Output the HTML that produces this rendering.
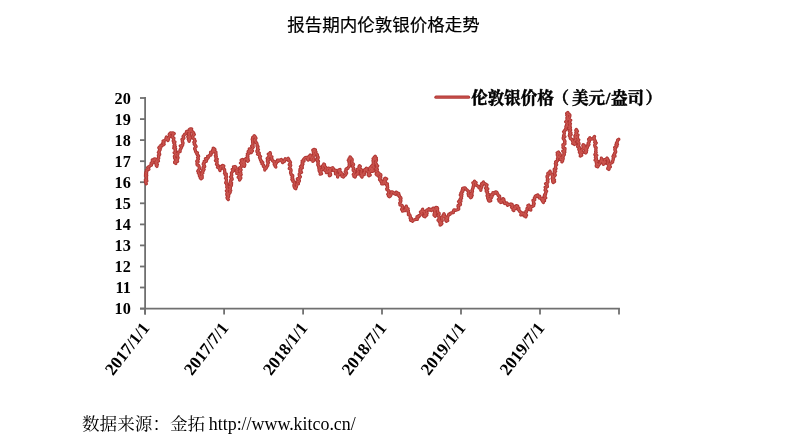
<!DOCTYPE html>
<html lang="zh"><head><meta charset="utf-8"><title>报告期内伦敦银价格走势</title>
<style>
html,body{margin:0;padding:0;background:#fff;}
body{width:800px;height:447px;overflow:hidden;position:relative;}
svg{position:absolute;left:0;top:0;display:block;}
.title{font-family:"Liberation Sans","Noto Sans CJK SC",sans-serif;font-size:17.5px;fill:#000;stroke:#000;stroke-width:0.2;}
.ax text{font-family:"Liberation Serif","Noto Serif CJK SC",serif;font-weight:bold;font-size:17.2px;fill:#000;}
.leg{font-family:"Liberation Serif","Noto Serif CJK SC",serif;font-weight:bold;font-size:16.5px;fill:#000;stroke:#000;stroke-width:0.5;}
.src{font-family:"Liberation Serif","Noto Serif CJK SC",serif;font-size:17.6px;fill:#000;}
.axis line{stroke:#707070;stroke-width:1.8;}
.d1{fill:none;stroke:#b03734;stroke-width:3.3;stroke-linejoin:round;stroke-linecap:round;}
.d2{fill:none;stroke:#ca534d;stroke-width:1.3;stroke-linejoin:round;stroke-linecap:round;}
</style></head>
<body>
<svg width="800" height="447" viewBox="0 0 800 447">
<rect width="800" height="447" fill="#fff"/>
<text class="title" x="287.2" y="30.5">报告期内伦敦银价格走势</text>
<g class="axis">
<line x1="145.1" y1="97.1" x2="145.1" y2="314.5"/>
<line x1="140" y1="308.6" x2="619.9" y2="308.6"/>
<line x1="140" y1="98.0" x2="145.1" y2="98.0"/>
<line x1="140" y1="119.1" x2="145.1" y2="119.1"/>
<line x1="140" y1="140.1" x2="145.1" y2="140.1"/>
<line x1="140" y1="161.2" x2="145.1" y2="161.2"/>
<line x1="140" y1="182.2" x2="145.1" y2="182.2"/>
<line x1="140" y1="203.3" x2="145.1" y2="203.3"/>
<line x1="140" y1="224.4" x2="145.1" y2="224.4"/>
<line x1="140" y1="245.4" x2="145.1" y2="245.4"/>
<line x1="140" y1="266.5" x2="145.1" y2="266.5"/>
<line x1="140" y1="287.5" x2="145.1" y2="287.5"/>
<line x1="140" y1="308.6" x2="145.1" y2="308.6"/>
<line x1="145.1" y1="308.6" x2="145.1" y2="314.5"/>
<line x1="224.1" y1="308.6" x2="224.1" y2="314.5"/>
<line x1="303.1" y1="308.6" x2="303.1" y2="314.5"/>
<line x1="382.0" y1="308.6" x2="382.0" y2="314.5"/>
<line x1="461.0" y1="308.6" x2="461.0" y2="314.5"/>
<line x1="540.0" y1="308.6" x2="540.0" y2="314.5"/>
<line x1="619.0" y1="308.6" x2="619.0" y2="314.5"/>
</g>
<g class="ax">
<text transform="translate(130.8,103.8) scale(0.945,1)" text-anchor="end">20</text>
<text transform="translate(130.8,124.9) scale(0.945,1)" text-anchor="end">19</text>
<text transform="translate(130.8,145.9) scale(0.945,1)" text-anchor="end">18</text>
<text transform="translate(130.8,167.0) scale(0.945,1)" text-anchor="end">17</text>
<text transform="translate(130.8,188.0) scale(0.945,1)" text-anchor="end">16</text>
<text transform="translate(130.8,209.1) scale(0.945,1)" text-anchor="end">15</text>
<text transform="translate(130.8,230.2) scale(0.945,1)" text-anchor="end">14</text>
<text transform="translate(130.8,251.2) scale(0.945,1)" text-anchor="end">13</text>
<text transform="translate(130.8,272.3) scale(0.945,1)" text-anchor="end">12</text>
<text transform="translate(130.8,293.3) scale(0.945,1)" text-anchor="end">11</text>
<text transform="translate(130.8,314.4) scale(0.945,1)" text-anchor="end">10</text>
<text transform="translate(150.3,328.3) rotate(-52) scale(0.993,1)" text-anchor="end">2017/1/1</text>
<text transform="translate(229.3,328.3) rotate(-52) scale(0.993,1)" text-anchor="end">2017/7/1</text>
<text transform="translate(308.3,328.3) rotate(-52) scale(0.993,1)" text-anchor="end">2018/1/1</text>
<text transform="translate(387.2,328.3) rotate(-52) scale(0.993,1)" text-anchor="end">2018/7/1</text>
<text transform="translate(466.2,328.3) rotate(-52) scale(0.993,1)" text-anchor="end">2019/1/1</text>
<text transform="translate(545.2,328.3) rotate(-52) scale(0.993,1)" text-anchor="end">2019/7/1</text>
</g>
<polyline class="d1" points="146.3,183.8 145.9,182.8 145.5,181.8 146.8,180.9 145.4,179.9 146.6,178.9 146.2,178.0 146.6,177.0 145.5,176.0 146.7,175.2 145.6,174.2 146.6,173.3 145.8,172.4 146.9,171.5 146.4,170.2 147.6,169.7 148.9,169.3 147.7,167.7 148.4,166.9 149.4,166.4 150.2,165.7 151.4,165.3 151.1,164.0 151.2,162.9 153.0,162.9 152.5,161.4 152.3,160.0 154.4,160.7 154.0,159.1 155.0,158.8 156.1,159.5 156.4,160.5 156.2,161.5 155.2,162.8 157.0,163.4 156.2,164.5 156.3,165.5 156.9,166.4 156.8,165.4 157.4,164.6 156.3,163.4 156.5,162.5 157.0,161.7 158.4,161.0 157.9,159.9 157.8,159.0 158.7,158.2 158.5,157.2 158.8,156.3 158.4,155.3 159.7,154.5 159.5,153.5 158.4,152.5 159.3,151.6 159.2,150.7 160.2,149.8 159.9,148.8 158.8,147.8 159.4,146.9 160.9,147.5 160.9,145.1 162.2,145.3 163.2,145.0 164.1,144.3 162.9,143.0 164.0,142.3 163.1,141.1 164.5,140.5 165.4,139.8 166.1,139.1 166.2,138.0 166.5,137.0 166.0,138.2 167.7,138.6 167.2,139.8 168.0,140.5 168.4,139.5 168.6,138.5 168.5,137.5 169.6,136.7 170.1,135.7 169.2,134.5 169.8,133.6 170.5,132.8 171.8,133.2 173.0,132.8 174.2,133.6 172.6,134.6 172.8,135.5 172.0,136.5 172.5,137.4 173.9,138.2 173.7,139.1 173.5,140.0 173.2,141.0 174.9,141.9 173.8,143.0 174.7,143.9 174.9,144.9 174.0,146.0 175.3,146.7 173.8,148.2 175.6,148.8 175.0,150.0 175.7,150.9 175.4,151.8 174.2,152.8 176.3,153.5 175.4,154.5 175.2,155.4 174.4,156.4 174.6,157.2 174.6,158.2 176.1,159.0 175.8,159.9 176.0,160.8 174.7,161.8 174.6,162.7 175.8,163.5 175.7,162.2 176.4,161.6 177.6,161.4 177.0,160.4 177.1,159.4 177.8,158.5 178.1,157.5 177.3,156.5 176.8,155.4 177.9,154.5 177.8,153.6 178.2,152.6 178.8,151.9 180.1,151.7 180.1,150.6 180.2,149.6 180.7,148.8 181.2,148.0 181.6,147.1 180.3,145.8 182.6,145.4 182.5,144.4 183.0,143.6 183.0,142.6 182.3,141.5 182.5,140.6 182.0,139.5 183.2,138.8 183.9,138.1 183.1,136.6 183.5,135.8 184.2,135.1 184.5,134.3 185.7,133.8 186.3,132.7 186.6,131.3 188.2,131.3 189.5,132.1 189.2,133.0 189.4,133.9 188.9,134.9 189.8,135.7 187.8,136.8 188.5,137.7 189.7,138.5 189.6,139.4 189.4,140.4 189.1,141.3 188.8,140.3 188.3,139.3 190.2,138.5 190.6,137.6 189.4,136.5 189.5,135.5 188.6,134.5 188.7,133.5 189.4,132.6 189.3,131.6 190.8,130.8 189.2,129.7 190.1,128.8 191.7,128.8 190.5,131.1 191.9,131.2 192.6,131.9 193.6,132.7 192.9,133.8 194.3,134.5 193.2,135.7 192.3,136.8 192.8,137.7 193.4,138.5 194.6,139.3 194.5,140.3 195.2,141.1 193.9,142.3 194.7,143.1 194.2,144.2 195.1,145.0 195.7,145.8 196.1,146.6 194.9,147.8 194.6,148.8 195.1,149.6 195.4,150.5 195.6,151.4 195.9,152.3 197.4,152.9 196.8,153.9 197.4,154.8 198.4,155.5 198.6,156.4 197.6,157.5 198.2,158.4 198.4,159.3 197.4,160.3 196.8,161.2 198.1,162.0 197.0,163.0 197.0,164.0 197.1,164.9 198.7,165.6 199.1,166.5 199.2,167.4 199.3,168.3 199.4,169.2 198.4,170.2 197.8,171.2 198.9,172.0 198.4,173.2 199.5,173.9 199.4,175.0 199.4,176.1 201.4,176.6 200.3,177.9 201.0,178.8 202.2,178.0 202.1,177.0 202.2,176.0 201.7,174.9 201.2,173.8 202.8,173.1 201.9,172.0 203.2,171.2 202.7,170.1 204.1,169.4 202.9,168.2 203.1,167.2 204.7,166.6 204.4,165.5 203.2,164.3 203.4,163.3 204.5,162.6 204.2,161.3 206.3,161.3 206.6,160.2 205.5,158.6 207.5,158.5 208.3,157.7 207.7,156.3 208.9,156.3 209.6,155.2 210.8,155.1 211.2,154.3 210.6,153.1 210.6,152.1 213.2,152.1 212.7,150.9 212.7,149.9 214.0,149.4 213.3,148.2 214.2,148.7 214.9,149.4 214.1,150.4 214.3,151.3 215.9,152.1 215.9,153.0 215.9,153.9 216.1,154.8 215.4,155.8 216.3,156.6 215.8,157.6 216.2,158.5 217.2,159.2 215.5,160.6 217.1,161.2 217.1,162.2 217.0,163.2 216.5,164.3 217.7,165.0 218.3,165.8 217.5,167.2 218.8,167.8 219.2,168.7 219.6,169.6 220.0,170.5 219.4,169.1 220.8,168.7 220.6,167.6 220.7,166.5 222.9,166.6 222.7,165.4 223.8,166.0 223.4,167.1 223.1,168.2 223.8,168.9 224.6,169.5 224.5,170.6 224.8,171.4 224.9,172.4 224.5,173.4 226.3,174.1 225.4,175.3 226.4,176.1 226.5,177.0 225.5,178.2 226.3,179.0 226.5,180.0 226.4,180.9 226.0,181.9 225.7,182.8 227.0,183.6 226.6,184.5 227.0,185.4 227.1,186.3 226.7,187.2 227.4,188.1 227.3,189.0 227.5,189.9 226.4,190.9 227.1,191.7 227.7,192.6 226.8,193.7 226.8,194.7 228.6,195.5 227.9,196.6 227.0,197.6 227.4,198.6 228.3,199.5 227.5,198.4 227.7,197.5 228.6,196.7 227.8,195.7 228.4,194.8 228.1,193.9 229.7,193.2 230.2,192.3 229.6,191.3 230.7,190.5 228.9,189.3 230.4,188.5 230.4,187.6 229.2,186.5 231.2,185.8 231.5,184.8 229.7,183.7 231.6,182.9 230.3,181.9 230.7,180.9 230.8,180.0 232.2,179.3 232.0,178.3 230.5,177.0 231.4,176.2 231.8,175.3 231.5,174.3 231.4,173.2 231.9,172.4 232.5,171.5 233.4,170.9 232.3,169.3 233.9,169.1 234.0,168.1 233.5,166.8 235.0,166.5 235.8,167.1 235.6,168.2 236.2,168.9 237.6,169.2 236.0,171.1 237.5,171.3 237.0,172.4 236.8,173.5 239.2,174.0 239.0,175.0 239.8,175.9 238.2,177.3 239.7,177.9 240.3,178.8 239.6,180.0 239.5,179.1 240.8,178.2 240.7,177.3 239.4,176.2 239.2,175.3 241.2,174.5 240.4,173.5 240.8,172.6 239.4,171.5 239.4,170.6 241.1,169.8 240.5,168.8 239.7,167.8 240.9,167.0 242.1,166.2 241.6,165.2 242.1,164.3 240.5,163.0 242.6,162.4 241.9,161.3 241.2,160.1 242.5,159.5 241.9,160.7 243.2,161.4 243.7,162.4 243.5,163.5 242.8,164.7 244.7,165.3 244.4,166.4 243.6,165.3 244.8,164.5 244.2,163.4 244.1,162.4 244.4,161.5 244.3,160.5 244.8,159.6 245.7,158.8 246.7,159.3 247.4,160.2 247.6,161.3 248.4,160.5 247.3,159.4 248.0,158.6 247.3,157.6 247.9,156.8 247.2,155.8 247.9,155.0 247.4,154.0 249.3,153.3 249.0,152.4 248.2,151.4 249.1,150.6 250.3,149.8 249.4,148.8 250.8,149.3 249.6,151.1 251.0,151.6 251.3,152.6 251.4,151.7 252.4,150.9 251.4,149.8 251.8,148.9 252.4,148.1 253.2,147.2 251.7,146.1 253.1,145.4 252.9,144.4 252.8,143.5 252.6,142.5 252.6,141.5 252.7,140.5 252.2,139.3 252.6,138.4 252.7,137.4 254.6,136.8 254.2,135.7 255.0,136.5 255.5,137.3 256.0,138.2 254.4,139.7 254.6,140.6 255.7,141.3 255.5,142.3 256.7,143.0 257.0,144.0 257.2,144.9 257.0,146.0 258.0,146.7 257.5,147.8 257.6,148.8 258.4,149.6 256.9,150.8 257.0,151.7 258.2,152.3 259.2,153.1 257.6,154.3 259.4,154.9 259.5,155.8 260.5,156.5 259.5,157.6 260.1,158.4 260.3,159.3 260.6,160.3 261.6,160.9 261.3,162.0 262.8,162.5 262.0,163.8 262.9,164.5 263.7,165.2 263.4,166.4 264.6,166.9 265.1,167.8 264.8,169.0 264.8,170.1 264.8,168.8 266.1,168.4 266.5,167.4 267.0,166.4 267.8,165.5 267.7,164.5 267.9,163.5 268.5,162.6 267.4,161.5 267.4,160.5 269.1,159.7 267.2,158.5 268.2,157.6 269.1,156.8 269.3,155.7 268.3,154.2 270.5,153.9 270.1,152.6 269.3,153.7 270.2,154.4 270.1,155.4 270.1,156.3 271.9,156.8 271.2,157.9 271.4,158.8 272.2,159.4 272.4,160.7 273.2,161.3 274.5,161.3 273.9,162.4 274.7,163.2 274.2,164.4 274.9,165.2 275.1,166.2 275.8,167.0 275.4,165.8 275.2,164.7 275.7,163.8 276.5,163.0 276.1,161.8 278.2,161.3 277.6,160.1 278.6,160.1 279.5,160.1 280.5,160.0 281.4,159.5 281.4,160.7 282.2,161.6 282.6,162.6 282.1,161.1 284.3,161.5 284.7,160.7 284.7,159.6 285.2,158.8 286.1,159.1 287.0,159.5 288.2,158.3 288.9,159.5 288.5,160.6 289.9,161.4 290.5,162.3 290.2,163.4 289.3,164.6 290.7,165.4 290.2,166.5 289.8,167.5 289.3,168.5 290.7,169.2 291.1,170.1 291.0,171.1 290.6,172.1 290.6,173.0 291.1,173.9 291.2,174.8 292.7,175.5 292.7,176.4 292.0,177.5 292.8,178.3 291.9,179.5 293.2,180.2 292.8,181.3 294.4,182.0 294.5,182.9 294.2,184.0 293.9,185.1 294.0,186.2 294.4,187.2 294.9,188.1 295.8,188.8 295.6,187.8 296.4,187.0 296.5,186.1 296.8,185.2 296.2,184.1 298.4,183.8 297.7,182.6 297.2,181.5 299.3,181.2 299.4,180.3 297.4,178.8 298.7,178.2 299.8,177.6 300.4,176.8 299.4,175.6 299.2,174.6 299.3,173.7 300.2,173.0 301.5,172.3 299.8,171.0 300.9,170.3 300.0,169.2 301.1,168.5 302.3,167.8 300.5,166.5 302.4,165.9 301.8,164.8 302.9,164.1 302.1,163.0 302.9,162.4 302.2,161.0 304.1,160.9 303.6,159.6 304.0,158.8 305.2,157.6 306.7,157.3 307.5,157.9 307.5,159.5 308.3,160.1 308.6,159.1 308.6,157.9 308.6,156.8 309.5,156.0 310.2,155.1 311.0,155.8 310.1,157.2 312.4,157.3 311.0,158.9 311.2,159.8 313.2,160.1 312.7,161.3 313.9,160.5 313.4,159.5 314.0,158.7 312.6,157.6 312.9,156.7 313.0,155.8 314.6,155.0 313.7,154.0 313.3,153.0 313.5,152.1 313.2,151.2 312.8,150.2 314.0,149.4 315.4,149.8 314.3,151.6 316.0,151.8 315.1,153.5 316.5,153.8 317.3,154.6 317.5,155.5 317.2,156.6 318.2,157.4 318.0,158.4 316.8,159.7 317.2,160.6 318.4,161.3 317.8,162.3 318.3,163.2 317.8,164.2 317.8,165.1 318.9,165.9 318.6,166.9 320.4,167.6 318.9,168.8 319.7,169.6 319.1,170.6 319.5,171.5 320.5,172.3 321.2,173.1 320.2,174.2 321.5,173.7 319.9,172.1 321.1,171.6 321.1,170.6 321.3,169.7 322.6,169.2 323.5,168.5 322.7,167.2 322.5,165.9 323.8,165.1 323.8,163.8 324.5,164.5 324.2,165.6 324.8,166.4 325.6,167.1 325.9,168.0 326.0,168.9 324.6,170.2 325.8,170.8 326.7,171.5 326.3,172.6 327.7,172.2 328.4,171.5 327.7,169.9 327.5,168.6 328.8,168.2 329.6,169.1 330.0,170.0 329.4,171.0 330.1,171.9 329.8,172.8 329.9,173.8 329.2,174.8 329.4,175.7 330.6,175.0 330.5,174.0 329.9,172.8 330.1,171.9 330.6,171.0 330.5,170.0 330.7,169.0 331.3,168.2 332.7,167.7 333.4,168.7 333.5,170.7 335.0,170.1 336.2,170.6 335.6,171.8 335.7,172.8 335.5,173.9 337.3,174.2 337.5,175.1 337.9,175.9 337.6,177.0 337.7,176.0 338.1,175.1 339.6,174.5 339.6,173.5 340.0,172.5 338.3,170.9 338.6,170.0 340.0,169.4 339.8,170.5 339.6,171.6 340.9,172.3 340.9,173.4 342.6,174.0 341.9,175.2 341.9,176.3 343.4,177.0 344.4,175.7 345.5,175.0 346.0,174.0 346.6,173.1 345.3,171.5 346.3,170.7 345.9,169.4 346.5,168.7 347.8,168.4 348.2,167.6 348.8,166.8 349.6,166.0 349.2,165.0 349.2,164.1 349.6,163.3 349.0,162.2 349.4,161.4 348.3,160.3 350.3,159.7 349.1,158.6 351.0,158.0 350.1,156.9 350.1,157.9 351.3,158.5 352.1,159.2 352.2,160.2 352.0,161.3 351.8,162.2 351.8,163.2 353.4,163.9 353.6,164.7 352.6,165.8 352.6,166.7 353.2,167.6 353.8,168.4 353.2,169.4 353.2,170.4 354.9,171.0 354.4,172.1 354.2,173.2 353.3,174.4 354.3,175.2 353.9,176.3 355.1,177.0 355.5,176.1 355.5,174.9 356.1,174.0 358.1,174.0 357.6,172.6 358.4,171.8 357.7,170.5 357.3,169.3 358.7,168.7 359.4,167.8 359.0,166.6 359.5,165.7 360.3,166.5 359.5,167.7 359.1,168.8 361.0,169.3 361.7,170.2 361.1,171.3 361.2,172.2 360.7,173.3 362.1,174.0 360.9,175.3 361.2,176.2 362.0,177.0 362.4,176.1 362.2,174.8 364.3,174.6 363.2,173.0 364.8,172.6 364.5,171.3 364.4,170.2 364.9,169.4 366.5,169.3 366.4,168.2 367.2,169.0 366.0,170.4 367.3,171.0 368.4,171.7 368.6,172.7 368.5,173.8 368.2,174.9 368.9,175.7 370.2,175.0 368.5,173.6 369.4,172.8 369.2,171.8 371.3,171.3 369.5,169.8 369.6,168.8 369.8,167.9 370.9,167.2 371.4,166.3 370.7,167.5 370.9,168.5 371.6,169.4 371.2,170.6 372.6,171.3 373.8,170.5 372.4,169.4 372.1,168.4 374.1,167.7 373.8,166.7 372.1,165.5 373.8,164.8 373.2,163.7 373.3,162.8 373.3,161.8 373.0,160.8 373.9,160.0 373.1,158.7 374.0,158.0 374.5,157.1 375.2,156.3 374.2,157.4 376.4,158.1 374.4,159.4 376.5,160.1 376.2,161.1 375.2,162.3 375.3,163.3 376.4,164.1 376.4,165.1 377.6,165.9 376.6,166.9 376.9,167.8 375.6,168.8 377.4,169.6 377.1,170.5 375.8,171.5 378.0,172.3 377.1,173.3 376.2,174.2 377.0,175.1 378.1,175.3 378.1,173.2 379.5,173.8 380.8,174.6 380.9,175.5 379.0,176.8 380.7,177.5 379.7,178.7 379.5,179.7 381.0,180.4 380.8,181.4 382.0,181.8 381.7,183.9 383.3,183.9 383.9,183.0 383.4,181.8 384.8,181.2 384.1,180.0 384.4,179.0 385.2,178.2 386.6,179.0 384.9,180.3 384.7,181.3 385.6,182.2 385.0,183.3 387.4,183.9 386.4,185.1 387.5,185.6 387.5,186.8 387.7,187.7 386.7,188.8 386.9,189.7 388.5,190.4 389.0,191.2 388.7,192.2 388.7,193.2 387.8,194.3 389.8,194.8 388.5,196.0 389.4,196.8 390.3,196.0 390.9,195.1 391.2,194.0 391.2,192.9 391.3,191.8 392.3,191.9 393.1,192.4 393.8,192.9 394.4,193.7 395.6,194.2 396.2,192.2 397.5,193.0 398.7,193.6 397.9,195.2 399.5,195.6 399.4,196.8 400.7,197.5 401.0,198.5 400.1,199.8 400.9,200.7 400.7,201.8 399.7,203.0 400.1,203.9 400.0,204.8 402.0,205.4 402.6,206.3 402.8,207.3 402.0,208.4 401.6,209.4 402.5,210.2 402.5,211.2 403.6,210.3 405.0,210.6 405.1,209.7 405.8,208.9 406.2,208.1 406.6,207.3 406.3,206.2 405.8,207.4 406.5,208.2 408.1,208.7 406.8,210.2 408.4,210.7 408.2,211.8 408.3,212.7 409.0,213.5 408.4,214.7 410.0,215.2 410.2,216.1 410.4,217.0 410.1,218.1 411.4,218.3 410.6,220.3 411.8,220.5 412.6,221.2 413.4,220.2 414.5,219.8 415.7,219.4 417.3,219.4 417.0,217.9 417.0,216.7 418.8,216.8 418.8,215.6 420.0,215.3 420.7,214.3 422.2,213.7 420.5,211.9 421.8,211.3 423.0,210.6 422.6,209.3 422.1,210.5 422.2,211.5 424.6,211.7 424.3,212.9 425.1,213.7 425.2,214.7 423.7,216.2 425.1,216.8 425.6,215.9 426.7,215.1 425.6,213.8 427.1,213.2 426.3,211.9 426.2,210.8 427.0,210.0 428.3,209.9 428.9,208.7 429.1,210.2 431.2,209.2 431.4,210.6 432.2,209.9 432.8,209.1 433.2,208.1 434.1,208.8 433.9,209.8 434.7,210.6 434.8,211.5 434.9,212.5 434.2,213.6 434.3,214.5 435.6,215.1 435.1,216.2 434.0,215.1 434.8,214.2 435.8,213.3 434.6,212.2 435.0,211.3 434.8,210.3 436.4,209.4 435.8,208.4 435.8,207.4 437.2,207.7 437.6,208.5 437.4,209.7 437.6,210.6 437.6,211.6 437.6,212.5 439.1,213.2 439.1,214.2 437.9,215.4 438.8,216.2 439.3,217.1 438.9,218.1 439.5,219.0 438.1,220.3 439.9,221.0 439.4,222.1 440.1,223.0 440.1,224.0 440.1,225.0 441.3,224.4 441.9,223.5 440.7,222.1 440.6,221.0 442.2,220.5 442.0,219.4 441.6,218.2 441.5,217.1 443.9,216.9 443.1,215.5 444.3,214.9 443.9,213.7 444.4,214.6 443.6,215.9 444.9,216.5 446.0,217.2 446.6,218.0 445.7,219.4 445.8,220.4 446.4,221.2 447.7,220.6 446.1,219.0 447.6,218.5 447.4,217.4 448.0,216.5 448.3,215.6 448.8,214.2 450.2,214.3 450.6,213.1 451.8,212.8 453.3,212.7 453.3,211.2 454.0,209.9 455.4,210.4 456.4,210.0 457.7,209.7 458.7,209.1 458.6,207.5 458.0,206.4 458.1,205.4 460.3,204.9 460.5,204.0 459.5,202.8 458.6,201.6 461.0,201.1 459.8,199.9 460.3,199.0 461.5,198.3 461.0,197.2 461.7,196.3 460.3,195.0 462.0,194.4 460.8,193.2 461.5,192.3 462.7,191.6 462.1,190.5 463.4,190.1 462.7,188.4 463.9,188.0 465.1,187.9 465.6,188.7 466.3,189.5 467.1,189.9 467.7,190.7 468.7,191.3 468.8,192.3 468.1,193.6 469.0,194.3 468.5,195.6 470.9,195.5 470.1,197.0 470.7,197.8 471.5,197.0 470.0,195.7 472.2,195.2 470.6,193.9 472.0,193.2 472.1,192.3 472.5,191.4 471.9,190.3 472.6,189.5 472.6,188.5 473.2,187.7 473.1,186.7 473.8,185.9 473.5,184.9 473.7,183.9 472.9,182.8 474.6,182.2 474.5,181.2 475.0,182.0 476.1,182.6 475.4,184.1 475.9,185.0 477.0,185.5 477.7,186.2 478.9,186.6 479.0,187.9 480.3,188.1 480.9,188.9 480.8,190.3 480.9,189.3 480.4,188.2 481.5,187.5 481.9,186.6 481.1,185.4 482.8,184.9 481.7,183.5 483.6,183.1 483.3,182.0 483.6,183.3 484.9,183.6 485.7,184.3 487.0,185.0 486.2,186.2 486.7,187.0 485.6,188.3 487.8,188.8 486.3,190.1 486.2,191.2 487.6,191.8 487.2,192.8 487.2,193.8 488.9,194.5 487.1,195.8 488.5,196.5 487.6,197.7 487.8,198.6 489.9,199.2 488.5,200.4 489.4,201.2 490.7,200.7 489.0,199.1 490.0,198.5 491.3,198.0 490.2,196.6 492.2,196.4 491.1,195.0 491.9,194.3 493.1,194.5 492.9,192.6 494.2,192.8 495.5,193.2 495.7,191.8 496.8,192.2 497.2,193.0 497.2,194.1 498.1,194.6 498.2,195.6 499.6,196.1 499.6,197.1 499.9,197.9 498.4,199.4 499.3,200.1 499.1,201.1 501.2,201.4 500.7,202.5 501.8,202.1 500.9,200.5 502.3,200.3 503.0,199.6 503.2,198.7 503.9,199.4 503.2,200.8 504.3,201.3 504.7,202.1 504.4,203.3 505.7,203.7 506.9,202.9 507.6,205.3 508.9,204.3 509.9,204.6 511.0,204.0 512.0,204.3 511.6,205.4 513.1,205.9 511.6,207.4 512.9,208.0 513.7,208.7 513.0,209.9 513.9,210.6 514.2,209.7 514.0,208.6 515.7,208.4 514.6,206.8 516.7,206.8 516.4,205.6 517.7,206.0 517.8,207.5 518.9,208.1 518.0,209.4 519.2,210.1 519.3,211.2 520.4,211.9 521.5,212.7 521.7,213.7 520.8,215.0 521.1,213.7 522.6,214.0 523.3,213.1 523.9,213.8 524.3,214.6 524.0,215.9 526.1,215.6 525.8,216.9 525.3,215.9 526.5,215.2 525.1,214.0 525.3,213.1 526.3,212.3 525.9,211.3 527.0,210.6 527.0,209.6 527.0,208.5 528.1,207.9 528.5,206.9 527.9,205.7 528.9,205.0 529.0,206.1 529.7,207.0 530.9,207.7 529.4,209.4 530.8,210.0 530.6,208.8 530.8,207.7 531.1,206.7 532.8,206.3 533.7,205.6 533.3,204.3 534.2,203.6 533.5,202.4 533.4,201.5 533.0,200.4 534.7,199.9 534.7,198.9 534.4,197.9 535.3,197.2 535.2,196.2 536.0,195.6 537.4,196.3 537.7,194.9 538.1,196.1 539.7,196.1 539.3,198.0 540.8,198.1 542.3,198.4 541.7,199.9 542.5,200.6 543.4,201.3 543.3,202.5 542.5,201.2 544.5,200.7 542.9,199.2 544.5,198.6 545.7,197.9 544.1,196.3 545.2,195.6 544.6,194.6 545.7,193.8 545.6,192.9 546.0,192.0 546.6,191.2 545.1,190.1 545.6,189.2 545.7,188.3 545.2,187.3 547.4,186.7 547.2,185.8 547.2,184.9 545.6,183.7 546.9,183.0 547.9,182.2 547.8,181.2 547.3,180.2 548.1,179.4 547.5,178.4 547.1,177.3 547.0,176.4 548.1,175.6 547.9,174.5 547.8,173.4 548.9,172.8 550.2,172.3 550.0,171.2 550.1,172.3 550.2,173.4 551.0,174.1 552.5,174.4 552.5,175.6 552.5,176.6 552.9,177.6 552.1,178.6 552.8,179.5 553.6,180.5 552.7,181.6 553.2,182.5 554.5,181.7 552.7,180.5 554.5,179.8 552.5,178.6 553.2,177.7 553.3,176.8 554.6,176.0 555.3,175.1 554.9,174.1 554.4,173.1 554.1,172.1 555.6,171.3 554.3,170.2 554.2,169.3 556.0,168.5 555.4,167.5 555.6,166.6 555.7,165.6 556.6,164.8 555.4,163.7 556.4,162.8 555.7,161.8 556.7,161.3 557.6,160.7 557.5,159.3 557.5,158.4 558.3,157.5 558.0,156.6 557.5,155.6 557.3,154.6 558.5,153.9 557.2,152.8 558.4,152.0 557.6,153.1 559.7,153.6 560.2,154.5 560.2,155.4 558.4,156.8 560.0,157.4 560.7,158.2 560.0,159.3 561.6,159.4 562.2,160.3 561.9,161.8 562.6,161.0 562.6,160.1 563.0,159.3 563.2,158.4 561.8,157.2 563.3,156.6 562.9,155.6 564.2,154.9 564.4,154.0 563.8,153.0 564.8,152.1 562.8,151.1 564.8,150.3 564.9,149.4 565.0,148.5 563.0,147.5 563.3,146.6 563.0,145.7 562.9,144.8 564.9,143.9 564.9,143.0 564.5,142.1 565.0,141.2 564.5,140.3 563.7,139.3 563.2,138.4 563.3,137.5 564.9,136.7 563.6,135.7 563.9,134.8 564.2,133.9 564.4,133.0 563.6,131.7 564.5,131.0 564.8,130.1 566.2,129.6 565.7,128.4 566.3,127.6 565.9,126.6 567.6,125.8 566.6,124.8 567.5,123.9 567.1,122.9 565.7,121.8 566.7,121.0 566.9,120.0 567.8,119.2 566.9,118.1 567.8,117.3 567.5,116.3 566.8,115.3 568.5,114.5 566.7,113.3 567.8,112.5 567.4,113.7 569.2,114.2 569.9,115.1 569.8,116.3 569.4,117.5 568.8,118.4 568.3,119.4 570.7,120.2 569.6,121.1 569.6,122.0 568.9,123.0 570.4,123.8 569.7,124.7 570.1,125.6 568.9,126.6 570.4,127.4 568.7,128.4 570.4,129.2 570.6,130.1 569.4,131.1 569.9,132.0 570.9,132.8 569.7,133.8 571.1,134.7 569.3,135.6 570.1,136.5 570.1,137.5 570.3,138.5 571.1,139.1 572.1,139.6 572.4,140.5 572.6,141.4 573.3,142.0 572.7,143.5 574.9,143.2 574.5,144.5 575.6,143.7 573.5,142.5 574.1,141.6 574.4,140.7 576.1,139.9 575.2,138.9 575.0,137.9 576.4,137.1 574.9,136.0 575.5,135.1 575.8,134.2 576.5,133.3 576.6,132.4 576.4,131.4 575.8,130.4 576.3,129.5 576.9,130.4 577.4,131.3 575.9,132.5 576.5,133.3 576.4,134.3 578.0,135.0 577.5,136.1 576.8,137.2 577.6,138.0 577.5,139.0 578.7,139.8 578.0,140.9 577.0,141.9 578.8,142.7 579.0,143.7 578.8,144.7 577.9,145.7 577.6,146.7 579.5,147.5 579.6,148.5 578.8,149.5 579.6,150.3 579.7,151.3 579.4,152.3 580.5,153.0 580.3,154.0 580.8,154.9 580.3,156.0 581.7,155.3 581.3,154.2 580.1,152.9 582.4,152.5 580.5,151.0 581.5,150.2 582.0,149.3 583.4,148.7 583.2,147.6 583.3,146.7 582.8,145.6 583.2,144.7 584.2,145.4 583.4,146.6 585.0,147.2 585.0,148.2 584.9,149.2 586.0,149.9 585.4,151.1 584.7,152.3 585.7,153.0 586.4,152.2 586.2,151.2 586.7,150.4 586.5,149.4 586.0,148.3 587.4,147.7 587.1,146.7 588.1,146.0 587.8,145.0 589.0,144.4 588.1,143.2 588.7,142.3 589.4,141.6 588.9,140.4 588.6,139.4 590.1,138.8 589.8,137.8 590.4,139.2 592.0,139.0 593.3,138.7 594.0,137.7 594.5,136.5 593.7,137.5 594.2,138.4 594.4,139.4 595.0,140.3 595.4,141.2 594.7,142.2 596.2,143.0 595.4,144.0 594.6,145.1 594.9,146.0 595.2,146.9 596.2,147.8 595.9,148.7 595.8,149.7 596.0,150.7 595.6,151.6 596.2,152.6 595.5,153.5 594.9,154.5 596.8,155.4 595.7,156.4 595.4,157.4 596.5,158.3 596.3,159.3 595.1,160.3 597.5,161.1 596.2,162.1 596.4,163.1 597.5,163.8 596.3,165.2 596.3,166.2 597.6,166.8 598.3,166.0 598.1,164.5 599.5,164.3 599.9,163.5 600.1,162.6 600.8,161.8 600.6,160.8 601.2,160.0 601.9,159.2 601.4,158.1 601.6,159.0 602.2,159.8 601.1,161.1 603.2,161.4 602.3,162.7 603.3,163.3 603.3,164.3 604.3,163.8 603.3,162.2 605.6,162.3 604.6,160.8 604.4,159.6 605.8,159.3 607.0,158.1 607.7,158.9 607.6,159.9 608.7,160.7 607.8,161.8 608.0,162.8 607.5,163.8 608.5,164.6 608.8,165.5 609.1,166.5 608.0,167.6 607.7,168.6 608.9,169.4 609.2,168.5 608.8,167.4 610.4,166.9 609.7,165.7 609.6,164.7 609.6,163.7 610.8,163.1 612.0,162.7 612.7,161.9 612.7,160.6 613.3,159.7 613.1,158.7 613.6,157.8 613.0,156.6 615.0,156.1 613.8,154.8 614.7,154.0 614.6,153.0 615.6,152.3 615.7,151.4 615.0,150.3 614.8,149.4 615.6,148.6 614.7,147.5 615.8,146.8 616.9,146.2 616.0,144.9 617.5,144.4 616.4,143.1 616.9,142.3 617.5,141.5 617.6,140.1 618.7,139.3"/>
<polyline class="d2" points="146.3,183.8 145.9,182.8 145.5,181.8 146.8,180.9 145.4,179.9 146.6,178.9 146.2,178.0 146.6,177.0 145.5,176.0 146.7,175.2 145.6,174.2 146.6,173.3 145.8,172.4 146.9,171.5 146.4,170.2 147.6,169.7 148.9,169.3 147.7,167.7 148.4,166.9 149.4,166.4 150.2,165.7 151.4,165.3 151.1,164.0 151.2,162.9 153.0,162.9 152.5,161.4 152.3,160.0 154.4,160.7 154.0,159.1 155.0,158.8 156.1,159.5 156.4,160.5 156.2,161.5 155.2,162.8 157.0,163.4 156.2,164.5 156.3,165.5 156.9,166.4 156.8,165.4 157.4,164.6 156.3,163.4 156.5,162.5 157.0,161.7 158.4,161.0 157.9,159.9 157.8,159.0 158.7,158.2 158.5,157.2 158.8,156.3 158.4,155.3 159.7,154.5 159.5,153.5 158.4,152.5 159.3,151.6 159.2,150.7 160.2,149.8 159.9,148.8 158.8,147.8 159.4,146.9 160.9,147.5 160.9,145.1 162.2,145.3 163.2,145.0 164.1,144.3 162.9,143.0 164.0,142.3 163.1,141.1 164.5,140.5 165.4,139.8 166.1,139.1 166.2,138.0 166.5,137.0 166.0,138.2 167.7,138.6 167.2,139.8 168.0,140.5 168.4,139.5 168.6,138.5 168.5,137.5 169.6,136.7 170.1,135.7 169.2,134.5 169.8,133.6 170.5,132.8 171.8,133.2 173.0,132.8 174.2,133.6 172.6,134.6 172.8,135.5 172.0,136.5 172.5,137.4 173.9,138.2 173.7,139.1 173.5,140.0 173.2,141.0 174.9,141.9 173.8,143.0 174.7,143.9 174.9,144.9 174.0,146.0 175.3,146.7 173.8,148.2 175.6,148.8 175.0,150.0 175.7,150.9 175.4,151.8 174.2,152.8 176.3,153.5 175.4,154.5 175.2,155.4 174.4,156.4 174.6,157.2 174.6,158.2 176.1,159.0 175.8,159.9 176.0,160.8 174.7,161.8 174.6,162.7 175.8,163.5 175.7,162.2 176.4,161.6 177.6,161.4 177.0,160.4 177.1,159.4 177.8,158.5 178.1,157.5 177.3,156.5 176.8,155.4 177.9,154.5 177.8,153.6 178.2,152.6 178.8,151.9 180.1,151.7 180.1,150.6 180.2,149.6 180.7,148.8 181.2,148.0 181.6,147.1 180.3,145.8 182.6,145.4 182.5,144.4 183.0,143.6 183.0,142.6 182.3,141.5 182.5,140.6 182.0,139.5 183.2,138.8 183.9,138.1 183.1,136.6 183.5,135.8 184.2,135.1 184.5,134.3 185.7,133.8 186.3,132.7 186.6,131.3 188.2,131.3 189.5,132.1 189.2,133.0 189.4,133.9 188.9,134.9 189.8,135.7 187.8,136.8 188.5,137.7 189.7,138.5 189.6,139.4 189.4,140.4 189.1,141.3 188.8,140.3 188.3,139.3 190.2,138.5 190.6,137.6 189.4,136.5 189.5,135.5 188.6,134.5 188.7,133.5 189.4,132.6 189.3,131.6 190.8,130.8 189.2,129.7 190.1,128.8 191.7,128.8 190.5,131.1 191.9,131.2 192.6,131.9 193.6,132.7 192.9,133.8 194.3,134.5 193.2,135.7 192.3,136.8 192.8,137.7 193.4,138.5 194.6,139.3 194.5,140.3 195.2,141.1 193.9,142.3 194.7,143.1 194.2,144.2 195.1,145.0 195.7,145.8 196.1,146.6 194.9,147.8 194.6,148.8 195.1,149.6 195.4,150.5 195.6,151.4 195.9,152.3 197.4,152.9 196.8,153.9 197.4,154.8 198.4,155.5 198.6,156.4 197.6,157.5 198.2,158.4 198.4,159.3 197.4,160.3 196.8,161.2 198.1,162.0 197.0,163.0 197.0,164.0 197.1,164.9 198.7,165.6 199.1,166.5 199.2,167.4 199.3,168.3 199.4,169.2 198.4,170.2 197.8,171.2 198.9,172.0 198.4,173.2 199.5,173.9 199.4,175.0 199.4,176.1 201.4,176.6 200.3,177.9 201.0,178.8 202.2,178.0 202.1,177.0 202.2,176.0 201.7,174.9 201.2,173.8 202.8,173.1 201.9,172.0 203.2,171.2 202.7,170.1 204.1,169.4 202.9,168.2 203.1,167.2 204.7,166.6 204.4,165.5 203.2,164.3 203.4,163.3 204.5,162.6 204.2,161.3 206.3,161.3 206.6,160.2 205.5,158.6 207.5,158.5 208.3,157.7 207.7,156.3 208.9,156.3 209.6,155.2 210.8,155.1 211.2,154.3 210.6,153.1 210.6,152.1 213.2,152.1 212.7,150.9 212.7,149.9 214.0,149.4 213.3,148.2 214.2,148.7 214.9,149.4 214.1,150.4 214.3,151.3 215.9,152.1 215.9,153.0 215.9,153.9 216.1,154.8 215.4,155.8 216.3,156.6 215.8,157.6 216.2,158.5 217.2,159.2 215.5,160.6 217.1,161.2 217.1,162.2 217.0,163.2 216.5,164.3 217.7,165.0 218.3,165.8 217.5,167.2 218.8,167.8 219.2,168.7 219.6,169.6 220.0,170.5 219.4,169.1 220.8,168.7 220.6,167.6 220.7,166.5 222.9,166.6 222.7,165.4 223.8,166.0 223.4,167.1 223.1,168.2 223.8,168.9 224.6,169.5 224.5,170.6 224.8,171.4 224.9,172.4 224.5,173.4 226.3,174.1 225.4,175.3 226.4,176.1 226.5,177.0 225.5,178.2 226.3,179.0 226.5,180.0 226.4,180.9 226.0,181.9 225.7,182.8 227.0,183.6 226.6,184.5 227.0,185.4 227.1,186.3 226.7,187.2 227.4,188.1 227.3,189.0 227.5,189.9 226.4,190.9 227.1,191.7 227.7,192.6 226.8,193.7 226.8,194.7 228.6,195.5 227.9,196.6 227.0,197.6 227.4,198.6 228.3,199.5 227.5,198.4 227.7,197.5 228.6,196.7 227.8,195.7 228.4,194.8 228.1,193.9 229.7,193.2 230.2,192.3 229.6,191.3 230.7,190.5 228.9,189.3 230.4,188.5 230.4,187.6 229.2,186.5 231.2,185.8 231.5,184.8 229.7,183.7 231.6,182.9 230.3,181.9 230.7,180.9 230.8,180.0 232.2,179.3 232.0,178.3 230.5,177.0 231.4,176.2 231.8,175.3 231.5,174.3 231.4,173.2 231.9,172.4 232.5,171.5 233.4,170.9 232.3,169.3 233.9,169.1 234.0,168.1 233.5,166.8 235.0,166.5 235.8,167.1 235.6,168.2 236.2,168.9 237.6,169.2 236.0,171.1 237.5,171.3 237.0,172.4 236.8,173.5 239.2,174.0 239.0,175.0 239.8,175.9 238.2,177.3 239.7,177.9 240.3,178.8 239.6,180.0 239.5,179.1 240.8,178.2 240.7,177.3 239.4,176.2 239.2,175.3 241.2,174.5 240.4,173.5 240.8,172.6 239.4,171.5 239.4,170.6 241.1,169.8 240.5,168.8 239.7,167.8 240.9,167.0 242.1,166.2 241.6,165.2 242.1,164.3 240.5,163.0 242.6,162.4 241.9,161.3 241.2,160.1 242.5,159.5 241.9,160.7 243.2,161.4 243.7,162.4 243.5,163.5 242.8,164.7 244.7,165.3 244.4,166.4 243.6,165.3 244.8,164.5 244.2,163.4 244.1,162.4 244.4,161.5 244.3,160.5 244.8,159.6 245.7,158.8 246.7,159.3 247.4,160.2 247.6,161.3 248.4,160.5 247.3,159.4 248.0,158.6 247.3,157.6 247.9,156.8 247.2,155.8 247.9,155.0 247.4,154.0 249.3,153.3 249.0,152.4 248.2,151.4 249.1,150.6 250.3,149.8 249.4,148.8 250.8,149.3 249.6,151.1 251.0,151.6 251.3,152.6 251.4,151.7 252.4,150.9 251.4,149.8 251.8,148.9 252.4,148.1 253.2,147.2 251.7,146.1 253.1,145.4 252.9,144.4 252.8,143.5 252.6,142.5 252.6,141.5 252.7,140.5 252.2,139.3 252.6,138.4 252.7,137.4 254.6,136.8 254.2,135.7 255.0,136.5 255.5,137.3 256.0,138.2 254.4,139.7 254.6,140.6 255.7,141.3 255.5,142.3 256.7,143.0 257.0,144.0 257.2,144.9 257.0,146.0 258.0,146.7 257.5,147.8 257.6,148.8 258.4,149.6 256.9,150.8 257.0,151.7 258.2,152.3 259.2,153.1 257.6,154.3 259.4,154.9 259.5,155.8 260.5,156.5 259.5,157.6 260.1,158.4 260.3,159.3 260.6,160.3 261.6,160.9 261.3,162.0 262.8,162.5 262.0,163.8 262.9,164.5 263.7,165.2 263.4,166.4 264.6,166.9 265.1,167.8 264.8,169.0 264.8,170.1 264.8,168.8 266.1,168.4 266.5,167.4 267.0,166.4 267.8,165.5 267.7,164.5 267.9,163.5 268.5,162.6 267.4,161.5 267.4,160.5 269.1,159.7 267.2,158.5 268.2,157.6 269.1,156.8 269.3,155.7 268.3,154.2 270.5,153.9 270.1,152.6 269.3,153.7 270.2,154.4 270.1,155.4 270.1,156.3 271.9,156.8 271.2,157.9 271.4,158.8 272.2,159.4 272.4,160.7 273.2,161.3 274.5,161.3 273.9,162.4 274.7,163.2 274.2,164.4 274.9,165.2 275.1,166.2 275.8,167.0 275.4,165.8 275.2,164.7 275.7,163.8 276.5,163.0 276.1,161.8 278.2,161.3 277.6,160.1 278.6,160.1 279.5,160.1 280.5,160.0 281.4,159.5 281.4,160.7 282.2,161.6 282.6,162.6 282.1,161.1 284.3,161.5 284.7,160.7 284.7,159.6 285.2,158.8 286.1,159.1 287.0,159.5 288.2,158.3 288.9,159.5 288.5,160.6 289.9,161.4 290.5,162.3 290.2,163.4 289.3,164.6 290.7,165.4 290.2,166.5 289.8,167.5 289.3,168.5 290.7,169.2 291.1,170.1 291.0,171.1 290.6,172.1 290.6,173.0 291.1,173.9 291.2,174.8 292.7,175.5 292.7,176.4 292.0,177.5 292.8,178.3 291.9,179.5 293.2,180.2 292.8,181.3 294.4,182.0 294.5,182.9 294.2,184.0 293.9,185.1 294.0,186.2 294.4,187.2 294.9,188.1 295.8,188.8 295.6,187.8 296.4,187.0 296.5,186.1 296.8,185.2 296.2,184.1 298.4,183.8 297.7,182.6 297.2,181.5 299.3,181.2 299.4,180.3 297.4,178.8 298.7,178.2 299.8,177.6 300.4,176.8 299.4,175.6 299.2,174.6 299.3,173.7 300.2,173.0 301.5,172.3 299.8,171.0 300.9,170.3 300.0,169.2 301.1,168.5 302.3,167.8 300.5,166.5 302.4,165.9 301.8,164.8 302.9,164.1 302.1,163.0 302.9,162.4 302.2,161.0 304.1,160.9 303.6,159.6 304.0,158.8 305.2,157.6 306.7,157.3 307.5,157.9 307.5,159.5 308.3,160.1 308.6,159.1 308.6,157.9 308.6,156.8 309.5,156.0 310.2,155.1 311.0,155.8 310.1,157.2 312.4,157.3 311.0,158.9 311.2,159.8 313.2,160.1 312.7,161.3 313.9,160.5 313.4,159.5 314.0,158.7 312.6,157.6 312.9,156.7 313.0,155.8 314.6,155.0 313.7,154.0 313.3,153.0 313.5,152.1 313.2,151.2 312.8,150.2 314.0,149.4 315.4,149.8 314.3,151.6 316.0,151.8 315.1,153.5 316.5,153.8 317.3,154.6 317.5,155.5 317.2,156.6 318.2,157.4 318.0,158.4 316.8,159.7 317.2,160.6 318.4,161.3 317.8,162.3 318.3,163.2 317.8,164.2 317.8,165.1 318.9,165.9 318.6,166.9 320.4,167.6 318.9,168.8 319.7,169.6 319.1,170.6 319.5,171.5 320.5,172.3 321.2,173.1 320.2,174.2 321.5,173.7 319.9,172.1 321.1,171.6 321.1,170.6 321.3,169.7 322.6,169.2 323.5,168.5 322.7,167.2 322.5,165.9 323.8,165.1 323.8,163.8 324.5,164.5 324.2,165.6 324.8,166.4 325.6,167.1 325.9,168.0 326.0,168.9 324.6,170.2 325.8,170.8 326.7,171.5 326.3,172.6 327.7,172.2 328.4,171.5 327.7,169.9 327.5,168.6 328.8,168.2 329.6,169.1 330.0,170.0 329.4,171.0 330.1,171.9 329.8,172.8 329.9,173.8 329.2,174.8 329.4,175.7 330.6,175.0 330.5,174.0 329.9,172.8 330.1,171.9 330.6,171.0 330.5,170.0 330.7,169.0 331.3,168.2 332.7,167.7 333.4,168.7 333.5,170.7 335.0,170.1 336.2,170.6 335.6,171.8 335.7,172.8 335.5,173.9 337.3,174.2 337.5,175.1 337.9,175.9 337.6,177.0 337.7,176.0 338.1,175.1 339.6,174.5 339.6,173.5 340.0,172.5 338.3,170.9 338.6,170.0 340.0,169.4 339.8,170.5 339.6,171.6 340.9,172.3 340.9,173.4 342.6,174.0 341.9,175.2 341.9,176.3 343.4,177.0 344.4,175.7 345.5,175.0 346.0,174.0 346.6,173.1 345.3,171.5 346.3,170.7 345.9,169.4 346.5,168.7 347.8,168.4 348.2,167.6 348.8,166.8 349.6,166.0 349.2,165.0 349.2,164.1 349.6,163.3 349.0,162.2 349.4,161.4 348.3,160.3 350.3,159.7 349.1,158.6 351.0,158.0 350.1,156.9 350.1,157.9 351.3,158.5 352.1,159.2 352.2,160.2 352.0,161.3 351.8,162.2 351.8,163.2 353.4,163.9 353.6,164.7 352.6,165.8 352.6,166.7 353.2,167.6 353.8,168.4 353.2,169.4 353.2,170.4 354.9,171.0 354.4,172.1 354.2,173.2 353.3,174.4 354.3,175.2 353.9,176.3 355.1,177.0 355.5,176.1 355.5,174.9 356.1,174.0 358.1,174.0 357.6,172.6 358.4,171.8 357.7,170.5 357.3,169.3 358.7,168.7 359.4,167.8 359.0,166.6 359.5,165.7 360.3,166.5 359.5,167.7 359.1,168.8 361.0,169.3 361.7,170.2 361.1,171.3 361.2,172.2 360.7,173.3 362.1,174.0 360.9,175.3 361.2,176.2 362.0,177.0 362.4,176.1 362.2,174.8 364.3,174.6 363.2,173.0 364.8,172.6 364.5,171.3 364.4,170.2 364.9,169.4 366.5,169.3 366.4,168.2 367.2,169.0 366.0,170.4 367.3,171.0 368.4,171.7 368.6,172.7 368.5,173.8 368.2,174.9 368.9,175.7 370.2,175.0 368.5,173.6 369.4,172.8 369.2,171.8 371.3,171.3 369.5,169.8 369.6,168.8 369.8,167.9 370.9,167.2 371.4,166.3 370.7,167.5 370.9,168.5 371.6,169.4 371.2,170.6 372.6,171.3 373.8,170.5 372.4,169.4 372.1,168.4 374.1,167.7 373.8,166.7 372.1,165.5 373.8,164.8 373.2,163.7 373.3,162.8 373.3,161.8 373.0,160.8 373.9,160.0 373.1,158.7 374.0,158.0 374.5,157.1 375.2,156.3 374.2,157.4 376.4,158.1 374.4,159.4 376.5,160.1 376.2,161.1 375.2,162.3 375.3,163.3 376.4,164.1 376.4,165.1 377.6,165.9 376.6,166.9 376.9,167.8 375.6,168.8 377.4,169.6 377.1,170.5 375.8,171.5 378.0,172.3 377.1,173.3 376.2,174.2 377.0,175.1 378.1,175.3 378.1,173.2 379.5,173.8 380.8,174.6 380.9,175.5 379.0,176.8 380.7,177.5 379.7,178.7 379.5,179.7 381.0,180.4 380.8,181.4 382.0,181.8 381.7,183.9 383.3,183.9 383.9,183.0 383.4,181.8 384.8,181.2 384.1,180.0 384.4,179.0 385.2,178.2 386.6,179.0 384.9,180.3 384.7,181.3 385.6,182.2 385.0,183.3 387.4,183.9 386.4,185.1 387.5,185.6 387.5,186.8 387.7,187.7 386.7,188.8 386.9,189.7 388.5,190.4 389.0,191.2 388.7,192.2 388.7,193.2 387.8,194.3 389.8,194.8 388.5,196.0 389.4,196.8 390.3,196.0 390.9,195.1 391.2,194.0 391.2,192.9 391.3,191.8 392.3,191.9 393.1,192.4 393.8,192.9 394.4,193.7 395.6,194.2 396.2,192.2 397.5,193.0 398.7,193.6 397.9,195.2 399.5,195.6 399.4,196.8 400.7,197.5 401.0,198.5 400.1,199.8 400.9,200.7 400.7,201.8 399.7,203.0 400.1,203.9 400.0,204.8 402.0,205.4 402.6,206.3 402.8,207.3 402.0,208.4 401.6,209.4 402.5,210.2 402.5,211.2 403.6,210.3 405.0,210.6 405.1,209.7 405.8,208.9 406.2,208.1 406.6,207.3 406.3,206.2 405.8,207.4 406.5,208.2 408.1,208.7 406.8,210.2 408.4,210.7 408.2,211.8 408.3,212.7 409.0,213.5 408.4,214.7 410.0,215.2 410.2,216.1 410.4,217.0 410.1,218.1 411.4,218.3 410.6,220.3 411.8,220.5 412.6,221.2 413.4,220.2 414.5,219.8 415.7,219.4 417.3,219.4 417.0,217.9 417.0,216.7 418.8,216.8 418.8,215.6 420.0,215.3 420.7,214.3 422.2,213.7 420.5,211.9 421.8,211.3 423.0,210.6 422.6,209.3 422.1,210.5 422.2,211.5 424.6,211.7 424.3,212.9 425.1,213.7 425.2,214.7 423.7,216.2 425.1,216.8 425.6,215.9 426.7,215.1 425.6,213.8 427.1,213.2 426.3,211.9 426.2,210.8 427.0,210.0 428.3,209.9 428.9,208.7 429.1,210.2 431.2,209.2 431.4,210.6 432.2,209.9 432.8,209.1 433.2,208.1 434.1,208.8 433.9,209.8 434.7,210.6 434.8,211.5 434.9,212.5 434.2,213.6 434.3,214.5 435.6,215.1 435.1,216.2 434.0,215.1 434.8,214.2 435.8,213.3 434.6,212.2 435.0,211.3 434.8,210.3 436.4,209.4 435.8,208.4 435.8,207.4 437.2,207.7 437.6,208.5 437.4,209.7 437.6,210.6 437.6,211.6 437.6,212.5 439.1,213.2 439.1,214.2 437.9,215.4 438.8,216.2 439.3,217.1 438.9,218.1 439.5,219.0 438.1,220.3 439.9,221.0 439.4,222.1 440.1,223.0 440.1,224.0 440.1,225.0 441.3,224.4 441.9,223.5 440.7,222.1 440.6,221.0 442.2,220.5 442.0,219.4 441.6,218.2 441.5,217.1 443.9,216.9 443.1,215.5 444.3,214.9 443.9,213.7 444.4,214.6 443.6,215.9 444.9,216.5 446.0,217.2 446.6,218.0 445.7,219.4 445.8,220.4 446.4,221.2 447.7,220.6 446.1,219.0 447.6,218.5 447.4,217.4 448.0,216.5 448.3,215.6 448.8,214.2 450.2,214.3 450.6,213.1 451.8,212.8 453.3,212.7 453.3,211.2 454.0,209.9 455.4,210.4 456.4,210.0 457.7,209.7 458.7,209.1 458.6,207.5 458.0,206.4 458.1,205.4 460.3,204.9 460.5,204.0 459.5,202.8 458.6,201.6 461.0,201.1 459.8,199.9 460.3,199.0 461.5,198.3 461.0,197.2 461.7,196.3 460.3,195.0 462.0,194.4 460.8,193.2 461.5,192.3 462.7,191.6 462.1,190.5 463.4,190.1 462.7,188.4 463.9,188.0 465.1,187.9 465.6,188.7 466.3,189.5 467.1,189.9 467.7,190.7 468.7,191.3 468.8,192.3 468.1,193.6 469.0,194.3 468.5,195.6 470.9,195.5 470.1,197.0 470.7,197.8 471.5,197.0 470.0,195.7 472.2,195.2 470.6,193.9 472.0,193.2 472.1,192.3 472.5,191.4 471.9,190.3 472.6,189.5 472.6,188.5 473.2,187.7 473.1,186.7 473.8,185.9 473.5,184.9 473.7,183.9 472.9,182.8 474.6,182.2 474.5,181.2 475.0,182.0 476.1,182.6 475.4,184.1 475.9,185.0 477.0,185.5 477.7,186.2 478.9,186.6 479.0,187.9 480.3,188.1 480.9,188.9 480.8,190.3 480.9,189.3 480.4,188.2 481.5,187.5 481.9,186.6 481.1,185.4 482.8,184.9 481.7,183.5 483.6,183.1 483.3,182.0 483.6,183.3 484.9,183.6 485.7,184.3 487.0,185.0 486.2,186.2 486.7,187.0 485.6,188.3 487.8,188.8 486.3,190.1 486.2,191.2 487.6,191.8 487.2,192.8 487.2,193.8 488.9,194.5 487.1,195.8 488.5,196.5 487.6,197.7 487.8,198.6 489.9,199.2 488.5,200.4 489.4,201.2 490.7,200.7 489.0,199.1 490.0,198.5 491.3,198.0 490.2,196.6 492.2,196.4 491.1,195.0 491.9,194.3 493.1,194.5 492.9,192.6 494.2,192.8 495.5,193.2 495.7,191.8 496.8,192.2 497.2,193.0 497.2,194.1 498.1,194.6 498.2,195.6 499.6,196.1 499.6,197.1 499.9,197.9 498.4,199.4 499.3,200.1 499.1,201.1 501.2,201.4 500.7,202.5 501.8,202.1 500.9,200.5 502.3,200.3 503.0,199.6 503.2,198.7 503.9,199.4 503.2,200.8 504.3,201.3 504.7,202.1 504.4,203.3 505.7,203.7 506.9,202.9 507.6,205.3 508.9,204.3 509.9,204.6 511.0,204.0 512.0,204.3 511.6,205.4 513.1,205.9 511.6,207.4 512.9,208.0 513.7,208.7 513.0,209.9 513.9,210.6 514.2,209.7 514.0,208.6 515.7,208.4 514.6,206.8 516.7,206.8 516.4,205.6 517.7,206.0 517.8,207.5 518.9,208.1 518.0,209.4 519.2,210.1 519.3,211.2 520.4,211.9 521.5,212.7 521.7,213.7 520.8,215.0 521.1,213.7 522.6,214.0 523.3,213.1 523.9,213.8 524.3,214.6 524.0,215.9 526.1,215.6 525.8,216.9 525.3,215.9 526.5,215.2 525.1,214.0 525.3,213.1 526.3,212.3 525.9,211.3 527.0,210.6 527.0,209.6 527.0,208.5 528.1,207.9 528.5,206.9 527.9,205.7 528.9,205.0 529.0,206.1 529.7,207.0 530.9,207.7 529.4,209.4 530.8,210.0 530.6,208.8 530.8,207.7 531.1,206.7 532.8,206.3 533.7,205.6 533.3,204.3 534.2,203.6 533.5,202.4 533.4,201.5 533.0,200.4 534.7,199.9 534.7,198.9 534.4,197.9 535.3,197.2 535.2,196.2 536.0,195.6 537.4,196.3 537.7,194.9 538.1,196.1 539.7,196.1 539.3,198.0 540.8,198.1 542.3,198.4 541.7,199.9 542.5,200.6 543.4,201.3 543.3,202.5 542.5,201.2 544.5,200.7 542.9,199.2 544.5,198.6 545.7,197.9 544.1,196.3 545.2,195.6 544.6,194.6 545.7,193.8 545.6,192.9 546.0,192.0 546.6,191.2 545.1,190.1 545.6,189.2 545.7,188.3 545.2,187.3 547.4,186.7 547.2,185.8 547.2,184.9 545.6,183.7 546.9,183.0 547.9,182.2 547.8,181.2 547.3,180.2 548.1,179.4 547.5,178.4 547.1,177.3 547.0,176.4 548.1,175.6 547.9,174.5 547.8,173.4 548.9,172.8 550.2,172.3 550.0,171.2 550.1,172.3 550.2,173.4 551.0,174.1 552.5,174.4 552.5,175.6 552.5,176.6 552.9,177.6 552.1,178.6 552.8,179.5 553.6,180.5 552.7,181.6 553.2,182.5 554.5,181.7 552.7,180.5 554.5,179.8 552.5,178.6 553.2,177.7 553.3,176.8 554.6,176.0 555.3,175.1 554.9,174.1 554.4,173.1 554.1,172.1 555.6,171.3 554.3,170.2 554.2,169.3 556.0,168.5 555.4,167.5 555.6,166.6 555.7,165.6 556.6,164.8 555.4,163.7 556.4,162.8 555.7,161.8 556.7,161.3 557.6,160.7 557.5,159.3 557.5,158.4 558.3,157.5 558.0,156.6 557.5,155.6 557.3,154.6 558.5,153.9 557.2,152.8 558.4,152.0 557.6,153.1 559.7,153.6 560.2,154.5 560.2,155.4 558.4,156.8 560.0,157.4 560.7,158.2 560.0,159.3 561.6,159.4 562.2,160.3 561.9,161.8 562.6,161.0 562.6,160.1 563.0,159.3 563.2,158.4 561.8,157.2 563.3,156.6 562.9,155.6 564.2,154.9 564.4,154.0 563.8,153.0 564.8,152.1 562.8,151.1 564.8,150.3 564.9,149.4 565.0,148.5 563.0,147.5 563.3,146.6 563.0,145.7 562.9,144.8 564.9,143.9 564.9,143.0 564.5,142.1 565.0,141.2 564.5,140.3 563.7,139.3 563.2,138.4 563.3,137.5 564.9,136.7 563.6,135.7 563.9,134.8 564.2,133.9 564.4,133.0 563.6,131.7 564.5,131.0 564.8,130.1 566.2,129.6 565.7,128.4 566.3,127.6 565.9,126.6 567.6,125.8 566.6,124.8 567.5,123.9 567.1,122.9 565.7,121.8 566.7,121.0 566.9,120.0 567.8,119.2 566.9,118.1 567.8,117.3 567.5,116.3 566.8,115.3 568.5,114.5 566.7,113.3 567.8,112.5 567.4,113.7 569.2,114.2 569.9,115.1 569.8,116.3 569.4,117.5 568.8,118.4 568.3,119.4 570.7,120.2 569.6,121.1 569.6,122.0 568.9,123.0 570.4,123.8 569.7,124.7 570.1,125.6 568.9,126.6 570.4,127.4 568.7,128.4 570.4,129.2 570.6,130.1 569.4,131.1 569.9,132.0 570.9,132.8 569.7,133.8 571.1,134.7 569.3,135.6 570.1,136.5 570.1,137.5 570.3,138.5 571.1,139.1 572.1,139.6 572.4,140.5 572.6,141.4 573.3,142.0 572.7,143.5 574.9,143.2 574.5,144.5 575.6,143.7 573.5,142.5 574.1,141.6 574.4,140.7 576.1,139.9 575.2,138.9 575.0,137.9 576.4,137.1 574.9,136.0 575.5,135.1 575.8,134.2 576.5,133.3 576.6,132.4 576.4,131.4 575.8,130.4 576.3,129.5 576.9,130.4 577.4,131.3 575.9,132.5 576.5,133.3 576.4,134.3 578.0,135.0 577.5,136.1 576.8,137.2 577.6,138.0 577.5,139.0 578.7,139.8 578.0,140.9 577.0,141.9 578.8,142.7 579.0,143.7 578.8,144.7 577.9,145.7 577.6,146.7 579.5,147.5 579.6,148.5 578.8,149.5 579.6,150.3 579.7,151.3 579.4,152.3 580.5,153.0 580.3,154.0 580.8,154.9 580.3,156.0 581.7,155.3 581.3,154.2 580.1,152.9 582.4,152.5 580.5,151.0 581.5,150.2 582.0,149.3 583.4,148.7 583.2,147.6 583.3,146.7 582.8,145.6 583.2,144.7 584.2,145.4 583.4,146.6 585.0,147.2 585.0,148.2 584.9,149.2 586.0,149.9 585.4,151.1 584.7,152.3 585.7,153.0 586.4,152.2 586.2,151.2 586.7,150.4 586.5,149.4 586.0,148.3 587.4,147.7 587.1,146.7 588.1,146.0 587.8,145.0 589.0,144.4 588.1,143.2 588.7,142.3 589.4,141.6 588.9,140.4 588.6,139.4 590.1,138.8 589.8,137.8 590.4,139.2 592.0,139.0 593.3,138.7 594.0,137.7 594.5,136.5 593.7,137.5 594.2,138.4 594.4,139.4 595.0,140.3 595.4,141.2 594.7,142.2 596.2,143.0 595.4,144.0 594.6,145.1 594.9,146.0 595.2,146.9 596.2,147.8 595.9,148.7 595.8,149.7 596.0,150.7 595.6,151.6 596.2,152.6 595.5,153.5 594.9,154.5 596.8,155.4 595.7,156.4 595.4,157.4 596.5,158.3 596.3,159.3 595.1,160.3 597.5,161.1 596.2,162.1 596.4,163.1 597.5,163.8 596.3,165.2 596.3,166.2 597.6,166.8 598.3,166.0 598.1,164.5 599.5,164.3 599.9,163.5 600.1,162.6 600.8,161.8 600.6,160.8 601.2,160.0 601.9,159.2 601.4,158.1 601.6,159.0 602.2,159.8 601.1,161.1 603.2,161.4 602.3,162.7 603.3,163.3 603.3,164.3 604.3,163.8 603.3,162.2 605.6,162.3 604.6,160.8 604.4,159.6 605.8,159.3 607.0,158.1 607.7,158.9 607.6,159.9 608.7,160.7 607.8,161.8 608.0,162.8 607.5,163.8 608.5,164.6 608.8,165.5 609.1,166.5 608.0,167.6 607.7,168.6 608.9,169.4 609.2,168.5 608.8,167.4 610.4,166.9 609.7,165.7 609.6,164.7 609.6,163.7 610.8,163.1 612.0,162.7 612.7,161.9 612.7,160.6 613.3,159.7 613.1,158.7 613.6,157.8 613.0,156.6 615.0,156.1 613.8,154.8 614.7,154.0 614.6,153.0 615.6,152.3 615.7,151.4 615.0,150.3 614.8,149.4 615.6,148.6 614.7,147.5 615.8,146.8 616.9,146.2 616.0,144.9 617.5,144.4 616.4,143.1 616.9,142.3 617.5,141.5 617.6,140.1 618.7,139.3"/>
<line class="d1" x1="436" y1="97.2" x2="468.5" y2="97.2"/>
<line class="d2" x1="436" y1="97.2" x2="468.5" y2="97.2"/>
<text class="leg" y="103.7"><tspan x="471.3">伦敦银价格</tspan><tspan x="552.5">（</tspan><tspan x="572">美元</tspan><tspan x="605.8">/</tspan><tspan x="611">盎司</tspan><tspan x="645.5">）</tspan></text>
<text class="src" x="82" y="429.7">数据来源：金拓 <tspan x="208.8" font-size="17.9">http://www.kitco.cn/</tspan></text>
</svg>
</body></html>
